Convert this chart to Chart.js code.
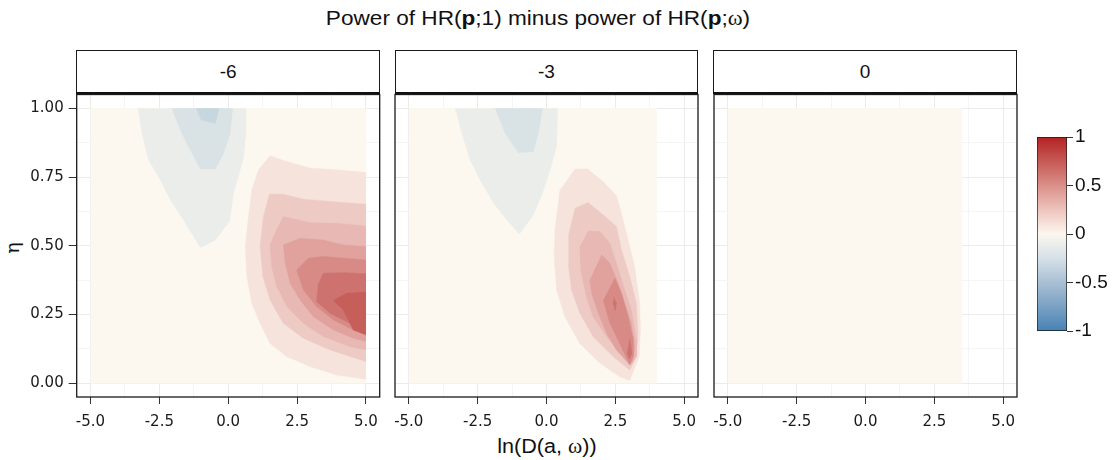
<!DOCTYPE html>
<html><head><meta charset="utf-8">
<script src="https://cdn.jsdelivr.net/npm/chart.js@4.4.0/dist/chart.umd.min.js"></script>
<style>
body{margin:0;width:1119px;height:460px;background:#fff;position:relative;overflow:hidden;font-family:'Liberation Sans',Arial,sans-serif;color:#111;}
canvas{position:absolute;}
.strip{position:absolute;top:50px;height:44px;border:1.3px solid #1a1a1a;border-bottom:2px solid #111;background:#fff;box-sizing:border-box;text-align:center;line-height:41px;font-size:19px;color:#111;}
.title{position:absolute;top:7px;left:338px;width:400px;text-align:center;font-size:20px;white-space:nowrap;transform:scaleX(1.13);}
.xlab{position:absolute;top:435px;left:447px;width:200px;text-align:center;font-size:20px;white-space:nowrap;transform:scaleX(1.08);}
.ylab{position:absolute;left:3px;top:236px;width:20px;height:24px;text-align:center;font-size:19px;font-family:'DejaVu Serif','Liberation Serif',serif;transform:rotate(-90deg);}
.sym{font-family:'Liberation Serif','DejaVu Serif',serif;}
</style>
</head><body>
<div class="title">Power of HR(<b>p</b>;1) minus power of HR(<b>p</b>;<span class="sym">ω</span>)</div>
<div class="xlab">ln(D(a, <span class="sym">ω</span>))</div>
<div class="ylab">η</div>
<canvas id="c1"></canvas><canvas id="c2"></canvas><canvas id="c3"></canvas><canvas id="cb"></canvas>
<div class="strip" id="s1"></div><div class="strip" id="s2"></div><div class="strip" id="s3"></div>
<script>
// ---- facet labels and axis ticks ----
const facetLabels = ['-6', '-3', '0'];
const xMajor = [-5, -2.5, 0, 2.5, 5];
const xMinor = [-3.75, -1.25, 1.25, 3.75];
const xTickLabels = ['-5.0', '-2.5', '0.0', '2.5', '5.0'];
const yMajor = [0, 0.25, 0.5, 0.75, 1];
const yMinor = [0.125, 0.375, 0.625, 0.875];
const yTickLabels = ['0.00', '0.25', '0.50', '0.75', '1.00'];
const cbTicks = [-1, -0.5, 0, 0.5, 1];
const cbLabels = ['-1', '-0.5', '0', '0.5', '1'];
const cbStops = [[-1,'#4682B4'],[-0.75,'#7AA1C4'],[-0.5,'#A9C0D4'],[-0.25,'#D6E0E7'],[0,'#FBF7EF'],[0.25,'#EDC4BD'],[0.5,'#DA8F89'],[0.75,'#C65A55'],[1,'#B22222']];

// ---- band colours (filled contour levels) ----
const bandColors = {
  cream:'#FCF8EF', blue1:'#EBEDEA', blue2:'#D9E2E5', blue3:'#C6D7E0',
  red1:'#F5E3DC', red2:'#EECAC4', red3:'#E8B8B4', red4:'#E1A29E',
  red5:'#D78A86', red6:'#CD726E', red7:'#C65E5A'
};

// ---- panel -6 : contour band outlines [ln D, eta] ----
const p1Cream = [[-5,0],[5,0],[5,1],[-5,1]];
const p1Blue1 = [[-3.27,1],[-3.13,0.909],[-2.89,0.812],[-2.46,0.739],[-2.10,0.667],[-1.62,0.594],[-1.01,0.493],[-0.47,0.521],[0.05,0.588],[0.19,0.691],[0.37,0.752],[0.56,0.824],[0.64,0.909],[0.64,1]];
const p1Blue2 = [[-2.04,1],[-1.74,0.921],[-1.44,0.861],[-1.01,0.779],[-0.47,0.779],[-0.17,0.836],[0.07,0.909],[0.16,1]];
const p1Blue3 = [[-1.16,1],[-0.99,0.958],[-0.47,0.945],[-0.33,1]];
const p1Red1 = [[5,0.766],[3.94,0.776],[2.97,0.782],[2.00,0.810],[1.52,0.827],[1.10,0.776],[0.86,0.703],[0.74,0.606],[0.62,0.497],[0.68,0.388],[0.86,0.291],[1.16,0.218],[1.52,0.145],[2.13,0.097],[2.97,0.061],[3.94,0.030],[5,0.015]];
const p1Red2 = [[5,0.651],[3.70,0.661],[2.73,0.669],[2.00,0.687],[1.50,0.688],[1.28,0.606],[1.16,0.497],[1.26,0.388],[1.52,0.303],[2.00,0.218],[2.73,0.164],[3.70,0.121],[5,0.079]];
const p1Red3 = [[5,0.572],[3.94,0.582],[2.97,0.584],[2.00,0.606],[1.76,0.558],[1.52,0.503],[1.58,0.424],[1.76,0.352],[2.13,0.279],[2.73,0.218],[3.45,0.170],[4.42,0.133],[5,0.121]];
const p1Red4 = [[5,0.497],[4.18,0.503],[3.45,0.521],[2.61,0.527],[2.00,0.503],[2.07,0.436],[2.25,0.364],[2.61,0.303],[3.09,0.242],[3.82,0.194],[4.54,0.164],[5,0.152]];
const p1Red5 = [[5,0.448],[3.45,0.461],[2.91,0.455],[2.49,0.412],[2.73,0.339],[3.21,0.279],[3.82,0.230],[4.54,0.194],[5,0.176]];
const p1Red6 = [[5,0.398],[4.18,0.402],[3.45,0.400],[3.27,0.358],[3.21,0.297],[3.70,0.255],[4.42,0.218],[5,0.194]];
const p1Red7 = [[5,0.331],[4.30,0.327],[3.82,0.301],[4.18,0.267],[4.54,0.194],[5,0.176]];

// ---- panel -3 ----
const p2Cream = [[-5,0],[4,0],[4,1],[-5,1]];
const p2Blue1 = [[-3.31,1],[-3.07,0.909],[-2.77,0.812],[-2.41,0.739],[-1.92,0.655],[-1.44,0.594],[-0.98,0.543],[-0.48,0.612],[-0.17,0.685],[0.13,0.776],[0.37,0.861],[0.40,1]];
const p2Blue2 = [[-1.86,1],[-1.50,0.909],[-1.02,0.839],[-0.48,0.842],[-0.30,0.909],[-0.14,1]];
const p2Red1 = [[1.03,0.779],[1.49,0.779],[2.06,0.733],[2.54,0.681],[2.78,0.594],[2.93,0.533],[3.20,0.424],[3.38,0.291],[3.41,0.194],[3.36,0.097],[3.02,0.010],[2.66,0.024],[1.94,0.073],[1.21,0.145],[0.67,0.242],[0.37,0.339],[0.28,0.461],[0.31,0.558],[0.49,0.703]];
const p2Red2 = [[1.03,0.636],[1.51,0.657],[2.06,0.612],[2.54,0.570],[2.72,0.485],[3.02,0.388],[3.26,0.291],[3.32,0.170],[3.26,0.097],[3.02,0.048],[2.42,0.097],[1.69,0.170],[1.21,0.255],[0.91,0.339],[0.79,0.436],[0.81,0.545]];
const p2Red3 = [[1.51,0.554],[1.94,0.552],[2.30,0.509],[2.54,0.436],[2.84,0.339],[3.08,0.267],[3.26,0.158],[3.26,0.097],[3.08,0.067],[2.66,0.109],[2.18,0.170],[1.69,0.242],[1.45,0.315],[1.24,0.412],[1.21,0.497]];
const p2Red4 = [[2.00,0.467],[2.30,0.436],[2.60,0.364],[2.84,0.291],[3.08,0.218],[3.20,0.133],[3.14,0.085],[3.02,0.067],[2.54,0.121],[2.18,0.182],[1.88,0.255],[1.64,0.327],[1.57,0.376]];
const p2Red5 = [[2.48,0.382],[2.72,0.327],[2.96,0.242],[3.12,0.170],[3.14,0.097],[3.02,0.067],[2.66,0.145],[2.30,0.218],[2.06,0.303]];
const p2Red6a = [[2.44,0.313],[2.54,0.291],[2.49,0.264],[2.42,0.291]];
const p2Red6b = [[3.02,0.164],[3.10,0.109],[3.00,0.087],[2.93,0.109]];

// ---- panel 0 ----
const p3Cream = [[-5,0],[3.5,0],[3.5,1],[-5,1]];

const panels = [
  {canvas:'c1', strip:'s1', left:0, yWidth:76.7, showY:true,
   bands:[[p1Cream,'cream'],[p1Blue1,'blue1'],[p1Blue2,'blue2'],[p1Blue3,'blue3'],[p1Red1,'red1'],[p1Red2,'red2'],[p1Red3,'red3'],[p1Red4,'red4'],[p1Red5,'red5'],[p1Red6,'red6'],[p1Red7,'red7']]},
  {canvas:'c2', strip:'s2', left:383, yWidth:12, showY:false,
   bands:[[p2Cream,'cream'],[p2Blue1,'blue1'],[p2Blue2,'blue2'],[p2Red1,'red1'],[p2Red2,'red2'],[p2Red3,'red3'],[p2Red4,'red4'],[p2Red5,'red5'],[p2Red6a,'red6'],[p2Red6b,'red6']]},
  {canvas:'c3', strip:'s3', left:701.5, yWidth:12, showY:false,
   bands:[[p3Cream,'cream']]}
];

Chart.defaults.font.family = "'Liberation Sans', Arial, sans-serif";
const TICKFONT = {size: 15, family: "'DejaVu Sans', sans-serif"};
const PW = 303, PADR = 12, TOP = 74, PADT = 20.5, PH = 302.5, XH = 38;

const frame = {id:'frame', afterDraw(c){const {ctx, chartArea:a}=c; ctx.save(); ctx.strokeStyle='#1a1a1a'; ctx.lineWidth=1.3; ctx.strokeRect(a.left,a.top,a.right-a.left,a.bottom-a.top); ctx.restore();}};

const xGrid = [...xMajor, ...xMinor].sort((a,b)=>a-b);
const yGrid = [...yMajor, ...yMinor].sort((a,b)=>a-b);

panels.forEach((p, k) => {
  const cv = document.getElementById(p.canvas);
  const w = Math.round(p.yWidth + PW + PADR);
  const h = Math.round(PADT + PH + XH);
  cv.width = w; cv.height = h;
  cv.style.left = p.left + 'px'; cv.style.top = TOP + 'px';
  cv.style.width = w + 'px'; cv.style.height = h + 'px';
  const st = document.getElementById(p.strip);
  st.style.left = (p.left + p.yWidth - 0.3) + 'px';
  st.style.width = (PW + 0.6) + 'px';
  st.textContent = facetLabels[k];
  const n = p.bands.length;
  const datasets = p.bands.map(([pts, key], i) => ({
    data: pts.map(([x, y]) => ({x, y})),
    fill: 'shape', backgroundColor: bandColors[key], borderColor: bandColors[key],
    borderWidth: 0.5, pointRadius: 0, tension: 0, order: n - i
  }));
  new Chart(cv, {
    type: 'line',
    data: {datasets},
    options: {
      responsive: false, animation: false, events: [], devicePixelRatio: 1,
      layout: {padding: {top: PADT, right: w - p.yWidth - PW, left: 0, bottom: 0}},
      plugins: {legend: {display: false}, tooltip: {enabled: false}},
      scales: {
        x: {type: 'linear', min: -5.5, max: 5.5,
          afterBuildTicks: s => { s.ticks = xGrid.map(v => ({value: v})); },
          afterFit: s => { s.height = XH; },
          ticks: {autoSkip: false, maxRotation: 0, padding: 9, color: '#1a1a1a', font: TICKFONT,
            callback: v => { const i = xMajor.indexOf(v); return i >= 0 ? xTickLabels[i] : ''; }},
          grid: {lineWidth: 1, tickLength: 7,
            color: c => xMajor.includes(c.tick.value) ? '#EBEBEB' : '#F5F5F5',
            tickColor: c => xMajor.includes(c.tick.value) ? '#333333' : 'rgba(0,0,0,0)'},
          border: {display: false}},
        y: {type: 'linear', min: -0.05, max: 1.05,
          afterBuildTicks: s => { s.ticks = yGrid.map(v => ({value: v})); },
          afterFit: s => { s.width = p.yWidth; },
          ticks: {display: p.showY, autoSkip: false, padding: 5, color: '#1a1a1a', font: TICKFONT,
            callback: v => { const i = yMajor.indexOf(v); return i >= 0 ? yTickLabels[i] : ''; }},
          grid: {lineWidth: 1, tickLength: 8, drawTicks: p.showY,
            color: c => yMajor.includes(c.tick.value) ? '#EBEBEB' : '#F5F5F5',
            tickColor: c => yMajor.includes(c.tick.value) ? '#333333' : 'rgba(0,0,0,0)'},
          border: {display: false}}
      }
    },
    plugins: [frame]
  });
});

// ---- colour bar legend ----
const cb = document.getElementById('cb');
cb.width = 89; cb.height = 240; cb.style.left = '1030px'; cb.style.top = '120px';
cb.style.width = '89px'; cb.style.height = '240px';
new Chart(cb, {
  type: 'bar',
  data: {labels: [''], datasets: [{
    data: [[cbTicks[0], cbTicks[cbTicks.length - 1]]],
    backgroundColor: c => { const ch = c.chart, a = ch.chartArea; if (!a) return '#fff';
      const g = ch.ctx.createLinearGradient(0, a.bottom, 0, a.top);
      cbStops.forEach(([v, col]) => g.addColorStop((v + 1) / 2, col)); return g; },
    borderColor: '#1a1a1a', borderWidth: 1, borderSkipped: false,
    barPercentage: 1, categoryPercentage: 1}]},
  options: {
    responsive: false, animation: false, events: [], devicePixelRatio: 1,
    layout: {padding: {left: 7, top: 17, bottom: 29, right: 0}},
    plugins: {legend: {display: false}, tooltip: {enabled: false}},
    scales: {
      x: {display: false},
      y: {position: 'right', min: -1, max: 1,
        afterBuildTicks: s => { s.ticks = cbTicks.map(v => ({value: v})); },
        afterFit: s => { s.width = 52; },
        ticks: {padding: 2, color: '#111', font: {size: 19},
          callback: v => cbLabels[cbTicks.indexOf(v)]},
        grid: {drawOnChartArea: false, tickLength: 6, tickColor: '#333'},
        border: {display: false}}
    }
  }
});
</script>
</body></html>
